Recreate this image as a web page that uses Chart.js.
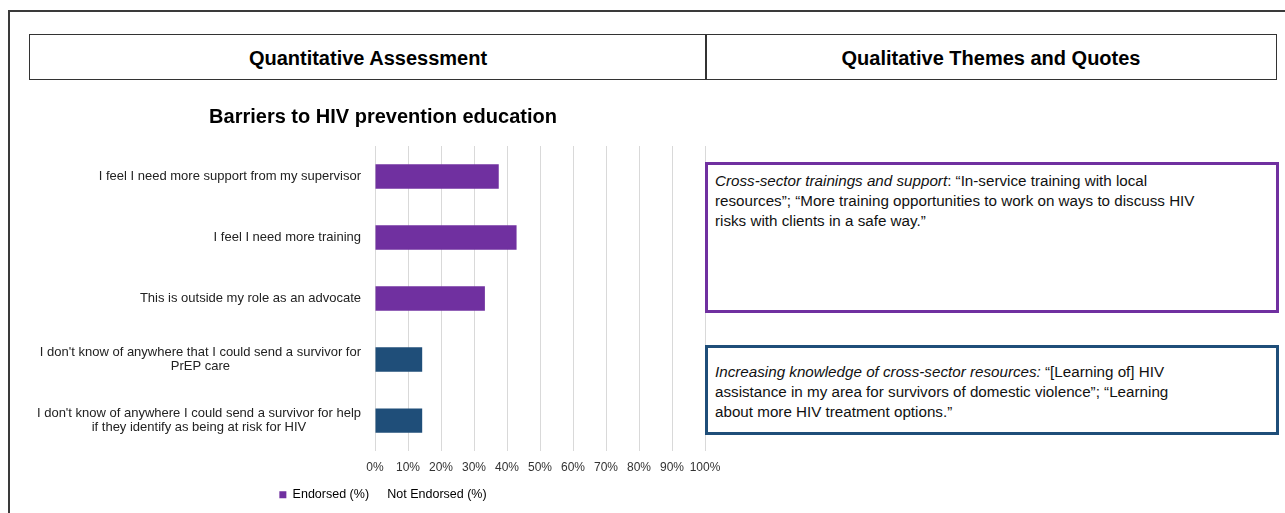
<!DOCTYPE html>
<html>
<head>
<meta charset="utf-8">
<script src="https://cdn.jsdelivr.net/npm/chart.js@4.4.1/dist/chart.umd.min.js"></script>
<style>
  html, body { margin: 0; padding: 0; background: #fff; overflow: hidden; }
  body { width: 1285px; height: 513px; position: relative; font-family: "Liberation Sans", Arial, sans-serif; color: #000; }
  .frame { position: absolute; left: 8px; top: 10px; width: 1400px; height: 600px; border: 2px solid #3a3a3a; box-sizing: border-box; }
  .head { position: absolute; top: 34px; height: 46px; border: 1.5px solid #333; box-sizing: border-box; padding-top: 2px;
          display: flex; align-items: center; justify-content: center; font-weight: bold; font-size: 20px; }
  #chartWrap { position: absolute; left: 20px; top: 92px; }
  .quote { position: absolute; left: 705px; width: 574px; box-sizing: border-box; background: #fff;
           font-size: 15.2px; line-height: 20px; padding: 6px 66px 8px 7px; color: #111; }
  .quote.purple { top: 162px; height: 151px; border: 3px solid #7030A0; }
  .quote.blue { top: 345px; height: 90px; border: 3px solid #1F4E79; padding-top: 14px; }
</style>
</head>
<body>
<div class="frame"></div>
<div class="head" style="left:29px; width:678px;">Quantitative Assessment</div>
<div class="head" style="left:705px; width:572px;">Qualitative Themes and Quotes</div>

<div id="chartWrap"><canvas id="barriers" width="726" height="419"></canvas></div>

<div class="quote purple"><i>Cross-sector trainings and support</i>: “In-service training with local resources”; “More training opportunities to work on ways to discuss HIV risks with clients in a safe way.”</div>
<div class="quote blue"><i>Increasing knowledge of cross-sector resources:</i> “[Learning of] HIV assistance in my area for survivors of domestic violence”; “Learning about more HIV treatment options.”</div>

<script>
/* ── Data ── */
const categories = [
  ['I feel I need more support from my supervisor'],
  ['I feel I need more training'],
  ['This is outside my role as an advocate'],
  ["I don't know of anywhere that I could send a survivor for", 'PrEP care'],
  ["I don't know of anywhere I could send a survivor for help", 'if they identify as being at risk for HIV']
];
const endorsed    = [37.5, 42.9, 33.3, 14.3, 14.3];
const notEndorsed = [62.5, 57.1, 66.7, 85.7, 85.7];
const xTickMax = 100;
const xTickStep = 10;

const PURPLE = '#7030A0';
const NAVY = '#1F4E79';
const barColors = [PURPLE, PURPLE, PURPLE, NAVY, NAVY];
const FONT = "'Liberation Sans', Arial, sans-serif";

/* ── y labels: right-aligned block, lines centered (Excel style) ── */
const categoryLabels = {
  id: 'categoryLabels',
  afterDraw(chart) {
    const { ctx, chartArea } = chart;
    const scale = chart.scales.y;
    ctx.save();
    ctx.font = '13px ' + FONT;
    ctx.fillStyle = '#222';
    ctx.textAlign = 'center';
    ctx.textBaseline = 'middle';
    const lh = 14.5;
    const right = chartArea.left - 14;
    categories.forEach((lines, i) => {
      const y = scale.getPixelForValue(i);
      const w = Math.max(...lines.map(l => ctx.measureText(l).width));
      const cx = right - w / 2;
      const top = y - (lines.length - 1) * lh / 2;
      lines.forEach((l, k) => ctx.fillText(l, cx, top + k * lh));
    });
    ctx.restore();
  }
};

new Chart(document.getElementById('barriers'), {
  type: 'bar',
  data: {
    labels: categories.map(c => c.join(' ')),
    datasets: [
      {
        label: 'Endorsed (%)',
        data: endorsed,
        backgroundColor: barColors,
        barPercentage: 0.5,
        categoryPercentage: 0.8
      },
      {
        label: 'Not Endorsed (%)',
        data: notEndorsed,
        backgroundColor: 'rgba(255,255,255,0)',
        barPercentage: 0.5,
        categoryPercentage: 0.8
      }
    ]
  },
  options: {
    indexAxis: 'y',
    responsive: false,
    animation: false,
    layout: { padding: 0 },
    plugins: {
      tooltip: { enabled: false },
      title: {
        display: true,
        text: 'Barriers to HIV prevention education',
        color: '#000',
        font: { family: FONT, size: 20, weight: 'bold' },
        padding: { top: 13, bottom: 17 }
      },
      legend: {
        position: 'bottom',
        labels: {
          color: '#333',
          font: { family: FONT, size: 12.5 },
          boxWidth: 7,
          boxHeight: 7,
          padding: 5,
          generateLabels: () => [
            { text: 'Endorsed (%)', fillStyle: PURPLE, strokeStyle: PURPLE, lineWidth: 0, datasetIndex: 0 },
            { text: 'Not Endorsed (%)', fillStyle: '#fff', strokeStyle: '#fff', lineWidth: 0, datasetIndex: 1 }
          ]
        }
      }
    },
    scales: {
      x: {
        stacked: true,
        min: 0,
        max: xTickMax,
        ticks: {
          stepSize: xTickStep,
          color: '#333',
          padding: 9,
          maxRotation: 0,
          minRotation: 0,
          autoSkip: false,
          font: { family: FONT, size: 12 },
          callback: v => v + '%'
        },
        grid: { color: '#d9d9d9', drawTicks: false },
        border: { display: false }
      },
      y: {
        stacked: true,
        ticks: { display: false },
        grid: { display: false },
        border: { display: false },
        afterFit: s => { s.width = 355; }
      },
      yRight: {
        type: 'category',
        position: 'right',
        labels: categories.map((c, i) => String(i)),
        ticks: { display: false },
        grid: { display: false },
        border: { display: false },
        afterFit: s => { s.width = 41; }
      }
    }
  },
  plugins: [categoryLabels]
});
</script>
</body>
</html>
